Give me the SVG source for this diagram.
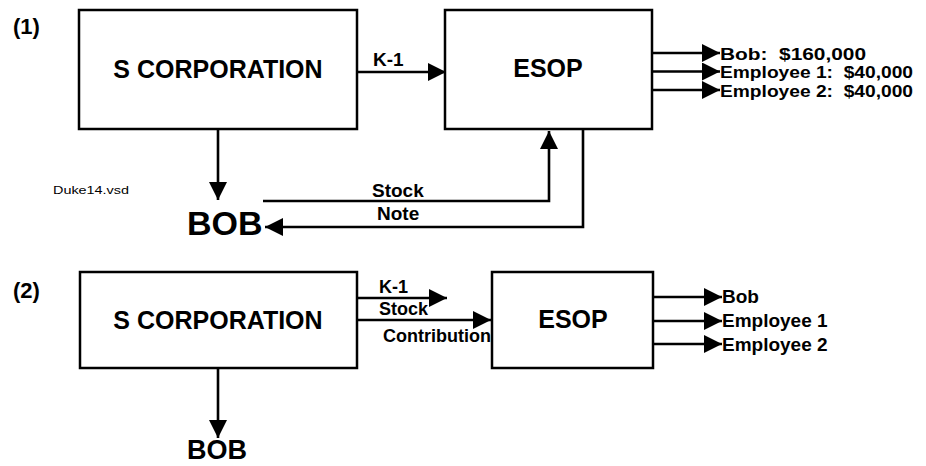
<svg xmlns="http://www.w3.org/2000/svg" width="926" height="466" viewBox="0 0 926 466">
<style>
  .box{fill:#fff;stroke:#000;stroke-width:2.5}
  .ln{fill:none;stroke:#000;stroke-width:2.6;marker-end:url(#ah)}
  text{font-family:"Liberation Sans",Arial,sans-serif;font-weight:bold;fill:#000}
  .big{font-size:25px;text-anchor:middle}
  .lbl{font-size:19px}
  .lbl2{font-size:18px}
  .out{font-size:16px;white-space:pre}
</style>
<defs>
  <marker id="ah" markerUnits="userSpaceOnUse" markerWidth="18" markerHeight="18" refX="18" refY="9" orient="auto">
    <path d="M0,0 L18,9 L0,18 z" fill="#000"/>
  </marker>
</defs>
<rect width="926" height="466" fill="#fff"/>

<text x="13" y="34" style="font-size:22px">(1)</text>
<text x="13" y="298" style="font-size:22px">(2)</text>
<text x="53" y="194" style="font-size:11px;font-weight:normal" textLength="76" lengthAdjust="spacingAndGlyphs">Duke14.vsd</text>

<g id="scorp1"><rect class="box" x="79" y="10" width="278" height="119"/><text class="big" x="218" y="78">S CORPORATION</text></g>
<g id="esop1"><rect class="box" x="445" y="10" width="207" height="119"/><text class="big" x="548" y="77">ESOP</text></g>
<g id="bob1"><text x="187" y="235" style="font-size:34px">BOB</text></g>
<g id="out1">
  <text class="out" x="720" y="59.5" xml:space="preserve" textLength="146" lengthAdjust="spacingAndGlyphs">Bob:  $160,000</text>
  <text class="out" x="720" y="78" xml:space="preserve" textLength="193" lengthAdjust="spacingAndGlyphs">Employee 1:  $40,000</text>
  <text class="out" x="720" y="96.5" xml:space="preserve" textLength="193" lengthAdjust="spacingAndGlyphs">Employee 2:  $40,000</text>
</g>

<g id="scorp2"><rect class="box" x="80" y="272" width="277" height="96"/><text class="big" x="218" y="329">S CORPORATION</text></g>
<g id="esop2"><rect class="box" x="492" y="272" width="161" height="96"/><text class="big" x="573" y="328">ESOP</text></g>
<g id="bob2"><text x="187" y="459" style="font-size:27px">BOB</text></g>
<g id="out2">
  <text class="out" x="722" y="303" style="font-size:19px">Bob</text>
  <text class="out" x="722" y="327" style="font-size:19px">Employee 1</text>
  <text class="out" x="722" y="351" style="font-size:19px">Employee 2</text>
</g>

<g id="connectors">
  <path class="ln" d="M357,72 H446"/>
  <text class="lbl" x="373" y="66">K-1</text>
  <path class="ln" d="M218,129 V200"/>
  <path class="ln" d="M263,201 H549 V131"/>
  <text class="lbl" x="372" y="197">Stock</text>
  <path class="ln" d="M583,129 V227 H265"/>
  <text class="lbl" x="377" y="220">Note</text>
  <path class="ln" d="M652,53 H720"/>
  <path class="ln" d="M652,71.5 H720"/>
  <path class="ln" d="M652,90 H720"/>

  <path class="ln" d="M357,298 H447"/>
  <text class="lbl2" x="379" y="293">K-1</text>
  <text class="lbl2" x="379" y="315">Stock</text>
  <path class="ln" d="M357,320 H491"/>
  <text class="lbl2" x="383" y="342">Contribution</text>
  <path class="ln" d="M218,368 V438"/>
  <path class="ln" d="M653,297 H722"/>
  <path class="ln" d="M653,321 H722"/>
  <path class="ln" d="M653,344 H722"/>
</g>
</svg>
